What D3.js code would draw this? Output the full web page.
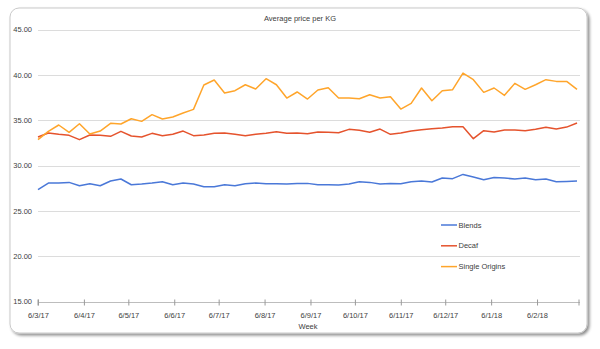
<!DOCTYPE html>
<html>
<head>
<meta charset="utf-8">
<script src="https://cdn.jsdelivr.net/npm/d3@7"></script>
<style>
  html, body { margin: 0; padding: 0; background: #ffffff; }
  svg { display: block; }
  text { font-family: "Liberation Sans", Arial, sans-serif; fill: #404040; }
</style>
</head>
<body>
<svg id="chart" width="600" height="349"></svg>
<script>
// ---- data ----
const title = "Average price per KG";
const xAxisTitle = "Week";
const weeks = [
  "2017-03-06","2017-03-13","2017-03-20","2017-03-27","2017-04-03","2017-04-10","2017-04-17","2017-04-24",
  "2017-05-01","2017-05-08","2017-05-15","2017-05-22","2017-05-29","2017-06-05","2017-06-12","2017-06-19",
  "2017-06-26","2017-07-03","2017-07-10","2017-07-17","2017-07-24","2017-07-31","2017-08-07","2017-08-14",
  "2017-08-21","2017-08-28","2017-09-04","2017-09-11","2017-09-18","2017-09-25","2017-10-02","2017-10-09",
  "2017-10-16","2017-10-23","2017-10-30","2017-11-06","2017-11-13","2017-11-20","2017-11-27","2017-12-04",
  "2017-12-11","2017-12-18","2017-12-25","2018-01-01","2018-01-08","2018-01-15","2018-01-22","2018-01-29",
  "2018-02-05","2018-02-12","2018-02-19","2018-02-26","2018-03-05"
];
const seriesNames = ["Blends", "Decaf", "Single Origins"];
const blends = [
  27.35,28.09,28.09,28.16,27.79,28.01,27.79,28.31,28.53,27.90,27.98,28.09,28.24,27.90,28.09,27.98,
  27.68,27.68,27.90,27.79,28.01,28.09,28.01,28.01,27.98,28.05,28.05,27.90,27.90,27.87,27.98,28.24,
  28.16,27.98,28.05,28.01,28.24,28.31,28.20,28.64,28.57,29.04,28.75,28.46,28.71,28.64,28.53,28.64,
  28.46,28.53,28.24,28.27,28.31
];
const decaf = [
  33.16,33.60,33.46,33.35,32.87,33.38,33.35,33.24,33.79,33.27,33.16,33.57,33.31,33.46,33.82,33.31,
  33.38,33.57,33.60,33.46,33.31,33.46,33.57,33.75,33.57,33.60,33.53,33.71,33.68,33.64,34.01,33.90,
  33.68,34.04,33.46,33.60,33.82,33.97,34.08,34.15,34.30,34.30,32.98,33.86,33.71,33.93,33.93,33.86,
  34.01,34.23,34.04,34.26,34.71
];
const singleOrigins = [
  32.87,33.79,34.49,33.68,34.63,33.49,33.82,34.67,34.60,35.18,34.89,35.63,35.15,35.37,35.81,36.21,
  38.90,39.45,38.01,38.27,38.93,38.46,39.60,38.93,37.46,38.13,37.35,38.35,38.60,37.46,37.46,37.39,
  37.83,37.46,37.61,36.25,36.88,38.57,37.17,38.27,38.38,40.22,39.49,38.09,38.57,37.76,39.08,38.42,
  38.93,39.49,39.30,39.30,38.42
];
const seriesColors = ["#4a78d8", "#e5532d", "#ffa52b"];
const monthTicks = [
  "2017-03-06","2017-04-06","2017-05-06","2017-06-06","2017-07-06","2017-08-06","2017-09-06",
  "2017-10-06","2017-11-06","2017-12-06","2018-01-06","2018-02-06","2018-03-06"
];
const monthTickLabels = ["6/3/17","6/4/17","6/5/17","6/6/17","6/7/17","6/8/17","6/9/17",
  "6/10/17","6/11/17","6/12/17","6/1/18","6/2/18",""];
const yTicks = [15, 20, 25, 30, 35, 40, 45];

// ---- drawing ----
const parse = d3.timeParse("%Y-%m-%d");
const svg = d3.select("#chart");

const defs = svg.append("defs");
const f = defs.append("filter").attr("id", "shadow").attr("x", "-5%").attr("y", "-5%").attr("width", "112%").attr("height", "115%");
f.append("feDropShadow").attr("dx", 2).attr("dy", 2).attr("stdDeviation", 1.6).attr("flood-color", "#000").attr("flood-opacity", 0.45);

svg.append("rect").attr("x", 10).attr("y", 8).attr("width", 577).attr("height", 325)
  .attr("rx", 9).attr("fill", "#fff").attr("stroke", "#c9c9c9").attr("stroke-width", 1)
  .attr("filter", "url(#shadow)");

const x = d3.scaleTime()
  .domain([parse(monthTicks[0]), parse(monthTicks[monthTicks.length - 1])])
  .range([38, 578.5]);
const y = d3.scaleLinear().domain([15, 45]).range([301.7, 29.7]);

// gridlines
svg.append("g").selectAll("line").data(yTicks.filter(d => d !== 15)).join("line")
  .attr("x1", 38).attr("x2", 580)
  .attr("y1", d => Math.round(y(d)) + 0.5).attr("y2", d => Math.round(y(d)) + 0.5)
  .attr("stroke", "#dcdcdc").attr("stroke-width", 1);

// y labels
svg.append("g").selectAll("text").data(yTicks).join("text")
  .attr("x", 32).attr("y", d => y(d)).attr("dy", "0.35em")
  .attr("text-anchor", "end").attr("font-size", 7.5)
  .text(d => d.toFixed(2));

// x axis
const xAxis = d3.axisBottom(x)
  .tickValues(monthTicks.map(parse))
  .tickFormat((d, i) => monthTickLabels[i])
  .tickSizeOuter(0).tickSize(3).tickPadding(7);
const gx = svg.append("g").attr("transform", `translate(0,${Math.round(y(15)) + 0.5})`).call(xAxis);
gx.select(".domain").attr("stroke", "#bdbdbd").attr("d", `M38,0H580`);
gx.selectAll(".tick line").attr("stroke", "#9a9a9a").attr("y1", -3).attr("y2", 3);
gx.selectAll(".tick text").attr("font-size", 7.5).attr("fill", "#404040")
  .attr("font-family", '"Liberation Sans", Arial, sans-serif');
// start tick at left end
gx.append("line").attr("x1", 38).attr("x2", 38).attr("y1", -3).attr("y2", 3).attr("stroke", "#9a9a9a");

// titles
svg.append("text").attr("x", 300).attr("y", 21).attr("text-anchor", "middle")
  .attr("font-size", 7.5).text(title);
svg.append("text").attr("x", 308).attr("y", 329).attr("text-anchor", "middle")
  .attr("font-size", 7.5).text(xAxisTitle);

// lines
const allSeries = [blends, decaf, singleOrigins];
const line = d3.line().x((d, i) => x(parse(weeks[i]))).y(d => y(d));
svg.append("g").selectAll("path").data(allSeries).join("path")
  .attr("d", d => line(d))
  .attr("fill", "none")
  .attr("stroke", (d, i) => seriesColors[i])
  .attr("stroke-width", 1.5)
  .attr("stroke-linejoin", "round");

// legend
const lg = svg.append("g").selectAll("g").data(seriesNames).join("g")
  .attr("transform", (d, i) => `translate(441,${225 + i * 20.8})`);
lg.append("line").attr("x1", 0).attr("x2", 16).attr("y1", 0).attr("y2", 0)
  .attr("stroke", (d, i) => seriesColors[i]).attr("stroke-width", 1.5);
lg.append("text").attr("x", 17.5).attr("y", 0).attr("dy", "0.35em")
  .attr("font-size", 7.5).text(d => d);
</script>
</body>
</html>
